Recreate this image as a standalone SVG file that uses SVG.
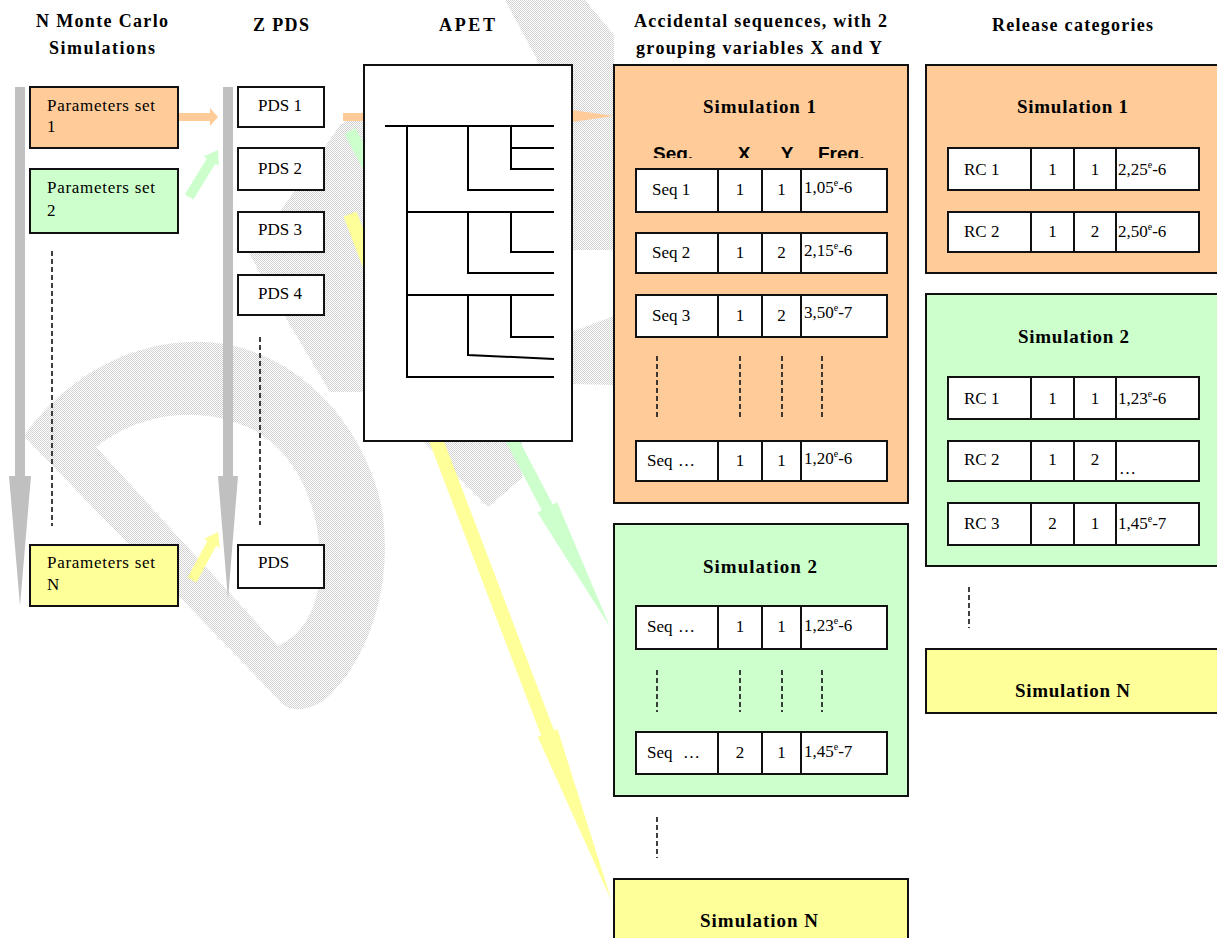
<svg xmlns="http://www.w3.org/2000/svg" width="1217" height="938" viewBox="0 0 1217 938">
<defs>
<pattern id="hatch" width="2" height="2" patternUnits="userSpaceOnUse"><rect width="2" height="2" fill="#ffffff"/><rect width="1" height="1" fill="#d2d2d2"/><rect x="1" y="1" width="1" height="1" fill="#d2d2d2"/></pattern>
<clipPath id="hdrclip"><rect x="600" y="130" width="300" height="28"/></clipPath>
</defs>
<style>
.hd{font-family:"Liberation Serif","Times New Roman",serif;font-weight:bold;font-size:18px;fill:#000}
.st{font-family:"Liberation Serif","Times New Roman",serif;font-weight:bold;font-size:19px;fill:#000}
.tx{font-family:"Liberation Serif","Times New Roman",serif;font-size:17px;fill:#000}
.mid{text-anchor:middle}
.th{font-family:"Liberation Sans",Arial,sans-serif;font-weight:bold;font-size:19px;fill:#000}
.sup{font-size:10px}
.box{stroke:#111;stroke-width:2}
.org{fill:#FFCC99}
.grn{fill:#CCFFCC}
.yel{fill:#FFFF99}
.wht{fill:#ffffff}
.cell{fill:#ffffff;stroke:#111;stroke-width:2}
.dash{stroke:#111;stroke-width:1.6;stroke-dasharray:5,3;fill:none}
.tree{stroke:#000;stroke-width:2;fill:none}
.wm{fill:url(#hatch);fill-rule:evenodd}
</style>
<rect width="1217" height="938" fill="#ffffff"/>

<g id="watermark">
<path class="wm" d="M 24,436 C 70,370 150,330 230,345 C 300,360 360,420 380,500 C 395,570 375,650 330,695 C 315,710 295,712 285,706 Z M 96,447 C 140,412 200,405 250,428 C 298,452 322,510 320,570 C 318,610 303,634 278,646 Z"/>
<polygon class="wm" points="250,255 340,125 364,112 364,392 330,392 290,325"/>
<polygon class="wm" points="505,0 585,0 614,35 614,250 572,250 572,65 540,65"/>
<polygon class="wm" points="572,332 614,316 614,385 572,384"/>
<polygon class="wm" points="423,441 522,441 522,478 488,507"/>
</g>

<g id="connectors">
<!-- timeline arrows -->
<polygon points="15,87 25,87 25,476 31,476 20,606 9,476 15,476" fill="#C0C0C0"/>
<polygon points="223,87 233,87 233,476 238,476 228,600 218,476 223,476" fill="#C0C0C0"/>
<!-- small arrows -->
<polygon points="178,113 210,113 210,108 218,117 210,126 210,121 178,121" fill="#FFCC99"/>
<polygon points="184.7,194.4 206.9,158.5 203.5,156.4 218,150 218.9,165.8 215.4,163.7 193.3,199.6" fill="#CCFFCC"/>
<polygon points="187.6,577.6 207.4,541 203.9,539.1 218,532 219.7,547.7 216.2,545.8 196.4,582.4" fill="#FFFF99"/>
<!-- big arrows -->
<polygon points="343,113 530,113 530,104 614,116 530,128 530,121 343,121" fill="#FFCC99"/>
<polygon points="355.5,128.1 552.8,504.5 557.2,502.2 610,627 537.4,512.6 541.8,510.3 344.5,133.9" fill="#CCFFCC"/>
<polygon points="356.5,211.5 554.1,730.4 557.5,729.1 612,902 537.7,736.7 541.1,735.4 343.5,216.5" fill="#FFFF99"/>
<!-- continuation dashes -->
<line class="dash" x1="52" y1="251" x2="52" y2="526"/>
<line class="dash" x1="260" y1="337" x2="260" y2="525"/>
<line class="dash" x1="657" y1="817" x2="657" y2="858"/>
<line class="dash" x1="969" y1="587" x2="969" y2="628"/>
</g>

<g id="headers">
<text class="hd" x="36" y="27" textLength="132" lengthAdjust="spacing">N Monte Carlo</text>
<text class="hd" x="49" y="54" textLength="106" lengthAdjust="spacing">Simulations</text>
<text class="hd" x="253" y="31" textLength="56" lengthAdjust="spacing">Z PDS</text>
<text class="hd" x="439" y="31" textLength="56" lengthAdjust="spacing">APET</text>
<text class="hd" x="634" y="27" textLength="253" lengthAdjust="spacing">Accidental sequences, with 2</text>
<text class="hd" x="636" y="54" textLength="246" lengthAdjust="spacing">grouping variables X and Y</text>
<text class="hd" x="992" y="31" textLength="161" lengthAdjust="spacing">Release categories</text>
</g>

<g id="param1">
<rect class="box org" x="30" y="87" width="148" height="61"/>
<text class="tx" x="47" y="111" textLength="108" lengthAdjust="spacing">Parameters set</text>
<text class="tx" x="47" y="132">1</text>
</g>
<g id="param2">
<rect class="box grn" x="30" y="169" width="148" height="64"/>
<text class="tx" x="47" y="193" textLength="108" lengthAdjust="spacing">Parameters set</text>
<text class="tx" x="47" y="216">2</text>
</g>
<g id="paramN">
<rect class="box yel" x="30" y="545" width="148" height="61"/>
<text class="tx" x="47" y="568" textLength="108" lengthAdjust="spacing">Parameters set</text>
<text class="tx" x="47" y="590">N</text>
</g>

<g id="pds1"><rect class="box wht" x="238" y="87" width="86" height="40"/><text class="tx" x="258" y="111">PDS 1</text></g>
<g id="pds2"><rect class="box wht" x="238" y="148" width="86" height="42"/><text class="tx" x="258" y="174">PDS 2</text></g>
<g id="pds3"><rect class="box wht" x="238" y="212" width="86" height="40"/><text class="tx" x="258" y="235">PDS 3</text></g>
<g id="pds4"><rect class="box wht" x="238" y="275" width="86" height="40"/><text class="tx" x="258" y="299">PDS 4</text></g>
<g id="pdsZ"><rect class="box wht" x="238" y="545" width="86" height="43"/><text class="tx" x="258" y="568">PDS</text></g>

<g id="apet">
<rect class="box wht" x="364" y="65" width="208" height="376"/>
<path class="tree" d="M385,126 H554 M407,126 V377 H554 M468,126 V190 H554 M511,126 V169 H554 M511,148 H554 M407,212 H554 M468,212 V273 H554 M511,212 V252 H554 M407,295 H554 M468,295 V355 L554,359 M511,295 V337 H554"/>
</g>

<g id="seq-sim1">
<rect class="box org" x="614" y="65" width="294" height="438"/>
<text class="st" x="703" y="113" textLength="113" lengthAdjust="spacing">Simulation 1</text>
<g clip-path="url(#hdrclip)">
<text class="th" x="653" y="160">Seq.</text>
<text class="th mid" x="744" y="160">X</text>
<text class="th mid" x="787" y="160">Y</text>
<text class="th" x="818" y="160">Freq.</text>
</g>
<g>
<rect class="cell" x="636" y="169" width="82" height="43"/><rect class="cell" x="718" y="169" width="44" height="43"/><rect class="cell" x="762" y="169" width="39" height="43"/><rect class="cell" x="801" y="169" width="86" height="43"/>
<text class="tx" x="652" y="195">Seq 1</text><text class="tx mid" x="740" y="195">1</text><text class="tx mid" x="781.5" y="195">1</text>
<text class="tx" x="804" y="193">1,05<tspan class="sup" dy="-7">e</tspan><tspan dy="7">-6</tspan></text>
</g>
<g>
<rect class="cell" x="636" y="233" width="82" height="40"/><rect class="cell" x="718" y="233" width="44" height="40"/><rect class="cell" x="762" y="233" width="39" height="40"/><rect class="cell" x="801" y="233" width="86" height="40"/>
<text class="tx" x="652" y="257.5">Seq 2</text><text class="tx mid" x="740" y="257.5">1</text><text class="tx mid" x="781.5" y="257.5">2</text>
<text class="tx" x="804" y="256">2,15<tspan class="sup" dy="-7">e</tspan><tspan dy="7">-6</tspan></text>
</g>
<g>
<rect class="cell" x="636" y="295" width="82" height="42"/><rect class="cell" x="718" y="295" width="44" height="42"/><rect class="cell" x="762" y="295" width="39" height="42"/><rect class="cell" x="801" y="295" width="86" height="42"/>
<text class="tx" x="652" y="320.5">Seq 3</text><text class="tx mid" x="740" y="320.5">1</text><text class="tx mid" x="781.5" y="320.5">2</text>
<text class="tx" x="804" y="318">3,50<tspan class="sup" dy="-7">e</tspan><tspan dy="7">-7</tspan></text>
</g>
<line class="dash" x1="657" y1="356" x2="657" y2="420"/><line class="dash" x1="740" y1="356" x2="740" y2="420"/><line class="dash" x1="782" y1="356" x2="782" y2="420"/><line class="dash" x1="822" y1="356" x2="822" y2="420"/>
<g>
<rect class="cell" x="636" y="441" width="82" height="40"/><rect class="cell" x="718" y="441" width="44" height="40"/><rect class="cell" x="762" y="441" width="39" height="40"/><rect class="cell" x="801" y="441" width="86" height="40"/>
<text class="tx" x="647" y="465.5">Seq <tspan x="678">…</tspan></text><text class="tx mid" x="740" y="465.5">1</text><text class="tx mid" x="781.5" y="465.5">1</text>
<text class="tx" x="804" y="464">1,20<tspan class="sup" dy="-7">e</tspan><tspan dy="7">-6</tspan></text>
</g>
</g>

<g id="seq-sim2">
<rect class="box grn" x="614" y="524" width="294" height="272"/>
<text class="st" x="703" y="573" textLength="114" lengthAdjust="spacing">Simulation 2</text>
<g>
<rect class="cell" x="636" y="606" width="82" height="43"/><rect class="cell" x="718" y="606" width="44" height="43"/><rect class="cell" x="762" y="606" width="39" height="43"/><rect class="cell" x="801" y="606" width="86" height="43"/>
<text class="tx" x="647" y="632">Seq <tspan x="678">…</tspan></text><text class="tx mid" x="740" y="632">1</text><text class="tx mid" x="781.5" y="632">1</text>
<text class="tx" x="804" y="631">1,23<tspan class="sup" dy="-7">e</tspan><tspan dy="7">-6</tspan></text>
</g>
<line class="dash" x1="657" y1="670" x2="657" y2="712"/><line class="dash" x1="740" y1="670" x2="740" y2="712"/><line class="dash" x1="782" y1="670" x2="782" y2="712"/><line class="dash" x1="822" y1="670" x2="822" y2="712"/>
<g>
<rect class="cell" x="636" y="732" width="82" height="42"/><rect class="cell" x="718" y="732" width="44" height="42"/><rect class="cell" x="762" y="732" width="39" height="42"/><rect class="cell" x="801" y="732" width="86" height="42"/>
<text class="tx" x="647" y="758">Seq <tspan x="683">…</tspan></text><text class="tx mid" x="740" y="758">2</text><text class="tx mid" x="781.5" y="758">1</text>
<text class="tx" x="804" y="756.5">1,45<tspan class="sup" dy="-7">e</tspan><tspan dy="7">-7</tspan></text>
</g>
</g>

<g id="seq-simN">
<rect class="box yel" x="614" y="879" width="294" height="70"/>
<text class="st" x="700" y="927" textLength="118" lengthAdjust="spacing">Simulation N</text>
</g>

<g id="rc-sim1">
<rect class="box org" x="926" y="65" width="292" height="208"/>
<text class="st" x="1017" y="113" textLength="111" lengthAdjust="spacing">Simulation 1</text>
<g>
<rect class="cell" x="948" y="148" width="83" height="42"/><rect class="cell" x="1031" y="148" width="43" height="42"/><rect class="cell" x="1074" y="148" width="42" height="42"/><rect class="cell" x="1116" y="148" width="83" height="42"/>
<text class="tx" x="964" y="175">RC 1</text><text class="tx mid" x="1052.5" y="175">1</text><text class="tx mid" x="1095" y="175">1</text>
<text class="tx" x="1118" y="175">2,25<tspan class="sup" dy="-7">e</tspan><tspan dy="7">-6</tspan></text>
</g>
<g>
<rect class="cell" x="948" y="212" width="83" height="40"/><rect class="cell" x="1031" y="212" width="43" height="40"/><rect class="cell" x="1074" y="212" width="42" height="40"/><rect class="cell" x="1116" y="212" width="83" height="40"/>
<text class="tx" x="964" y="237">RC 2</text><text class="tx mid" x="1052.5" y="237">1</text><text class="tx mid" x="1095" y="237">2</text>
<text class="tx" x="1118" y="237">2,50<tspan class="sup" dy="-7">e</tspan><tspan dy="7">-6</tspan></text>
</g>
</g>

<g id="rc-sim2">
<rect class="box grn" x="926" y="294" width="292" height="272"/>
<text class="st" x="1018" y="343" textLength="111" lengthAdjust="spacing">Simulation 2</text>
<g>
<rect class="cell" x="948" y="377" width="83" height="42"/><rect class="cell" x="1031" y="377" width="43" height="42"/><rect class="cell" x="1074" y="377" width="42" height="42"/><rect class="cell" x="1116" y="377" width="83" height="42"/>
<text class="tx" x="964" y="404">RC 1</text><text class="tx mid" x="1052.5" y="404">1</text><text class="tx mid" x="1095" y="404">1</text>
<text class="tx" x="1118" y="404">1,23<tspan class="sup" dy="-7">e</tspan><tspan dy="7">-6</tspan></text>
</g>
<g>
<rect class="cell" x="948" y="441" width="83" height="40"/><rect class="cell" x="1031" y="441" width="43" height="40"/><rect class="cell" x="1074" y="441" width="42" height="40"/><rect class="cell" x="1116" y="441" width="83" height="40"/>
<text class="tx" x="964" y="465">RC 2</text><text class="tx mid" x="1052.5" y="465">1</text><text class="tx mid" x="1095" y="465">2</text>
<text class="tx" x="1119" y="474" font-size="22">…</text>
</g>
<g>
<rect class="cell" x="948" y="503" width="83" height="42"/><rect class="cell" x="1031" y="503" width="43" height="42"/><rect class="cell" x="1074" y="503" width="42" height="42"/><rect class="cell" x="1116" y="503" width="83" height="42"/>
<text class="tx" x="964" y="529">RC 3</text><text class="tx mid" x="1052.5" y="529">2</text><text class="tx mid" x="1095" y="529">1</text>
<text class="tx" x="1118" y="529">1,45<tspan class="sup" dy="-7">e</tspan><tspan dy="7">-7</tspan></text>
</g>
</g>

<g id="rc-simN">
<rect class="box yel" x="926" y="649" width="292" height="64"/>
<text class="st" x="1015" y="697" textLength="115" lengthAdjust="spacing">Simulation N</text>
</g>
</svg>
